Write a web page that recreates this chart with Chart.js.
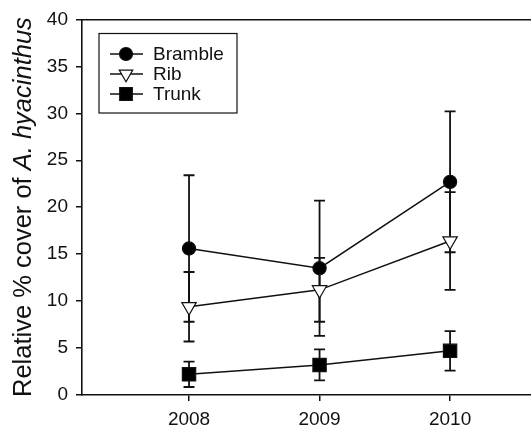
<!DOCTYPE html>
<html lang="en">
<head>
    <meta charset="UTF-8">
    <title>Relative % cover of A. hyacinthus</title>
    <script src="https://cdn.jsdelivr.net/npm/chart.js"></script>
    <style>
        html, body {
            margin: 0;
            padding: 0;
            background: #fff;
            overflow: hidden;
        }
        canvas {
            display: block;
        }
    </style>
</head>
<body>
    <canvas id="chart" width="531" height="426"></canvas>

    <script>
        // data
        const years = [2008, 2009, 2010];
        const brambleMean = [15.6, 13.5, 22.7];
        const brambleErr = [7.8, 7.2, 7.5];
        const ribMean = [9.4, 11.2, 16.4];
        const ribErr = [3.7, 3.4, 5.2];
        const trunkMean = [2.2, 3.2, 4.7];
        const trunkErr = [1.35, 1.65, 2.1];
        const yTicks = [0, 5, 10, 15, 20, 25, 30, 35, 40];

        const FONT = "'Liberation Sans', Arial, sans-serif";

        function toPoints(xs, ys) {
            return xs.map((x, i) => ({x: x, y: ys[i]}));
        }

        const series = [
            {label: "Bramble", mean: brambleMean, err: brambleErr, style: "circle", radius: 6.6, fill: "#000", rot: 0},
            {label: "Rib", mean: ribMean, err: ribErr, style: "triangle", radius: 8.3, fill: "#fff", rot: 180},
            {label: "Trunk", mean: trunkMean, err: trunkErr, style: "rect", radius: 9.4, fill: "#000", rot: 0}
        ];

        // error bars, drawn under the markers
        const errorBars = {
            id: "errorBars",
            beforeDatasetsDraw(chart) {
                const {ctx, scales: {x, y}} = chart;
                ctx.save();
                ctx.strokeStyle = "#111";
                ctx.lineWidth = 1.8;
                series.forEach(s => {
                    years.forEach((yr, i) => {
                        const px = x.getPixelForValue(yr);
                        const top = y.getPixelForValue(s.mean[i] + s.err[i]);
                        const bot = y.getPixelForValue(s.mean[i] - s.err[i]);
                        ctx.beginPath();
                        ctx.moveTo(px, top);
                        ctx.lineTo(px, bot);
                        ctx.moveTo(px - 5.5, top);
                        ctx.lineTo(px + 5.5, top);
                        ctx.moveTo(px - 5.5, bot);
                        ctx.lineTo(px + 5.5, bot);
                        ctx.stroke();
                    });
                });
                ctx.restore();
            }
        };

        // boxed legend with line + marker samples
        const boxLegend = {
            id: "boxLegend",
            afterDraw(chart) {
                const ctx = chart.ctx;
                ctx.save();
                ctx.strokeStyle = "#111";
                ctx.lineWidth = 1.2;
                ctx.strokeRect(99, 33.5, 138, 79.5);
                series.forEach((s, i) => {
                    const cy = 54 + i * 20;
                    ctx.lineWidth = 1.5;
                    ctx.beginPath();
                    ctx.moveTo(110, cy);
                    ctx.lineTo(143, cy);
                    ctx.stroke();
                    ctx.fillStyle = s.fill;
                    ctx.lineWidth = 1.2;
                    Chart.helpers.drawPoint(ctx, {
                        pointStyle: s.style,
                        radius: s.style === "circle" ? 6.5 : s.radius - 0.5,
                        rotation: s.rot,
                        borderWidth: 1.2
                    }, 126, cy);
                    ctx.fillStyle = "#111";
                    ctx.font = "19px " + FONT;
                    ctx.textBaseline = "middle";
                    ctx.textAlign = "left";
                    ctx.fillText(s.label, 153, cy + 1);
                });
                ctx.restore();
            }
        };

        // y title with italic species name
        const yTitle = {
            id: "yTitle",
            afterDraw(chart) {
                const ctx = chart.ctx;
                const a = "Relative % cover of ";
                const b = "A. hyacinthus";
                ctx.save();
                ctx.translate(31, 397);
                ctx.rotate(-Math.PI / 2);
                ctx.fillStyle = "#111";
                ctx.textBaseline = "alphabetic";
                ctx.textAlign = "left";
                ctx.font = "25.5px " + FONT;
                ctx.fillText(a, 0, 0);
                const w = ctx.measureText(a).width;
                ctx.font = "italic 25.5px " + FONT;
                ctx.fillText(b, w, 0);
                ctx.restore();
            }
        };

        new Chart(document.getElementById("chart"), {
            type: "line",
            data: {
                datasets: series.map(s => ({
                    label: s.label,
                    data: toPoints(years, s.mean),
                    borderColor: "#111",
                    borderWidth: 1.5,
                    pointStyle: s.style,
                    pointRadius: s.radius,
                    pointRotation: s.rot,
                    pointBackgroundColor: s.fill,
                    pointBorderColor: "#111",
                    pointBorderWidth: 1.2,
                    tension: 0
                }))
            },
            options: {
                responsive: false,
                animation: false,
                layout: {
                    autoPadding: false,
                    padding: {top: 18, right: 0, left: 0, bottom: 0}
                },
                plugins: {
                    legend: {display: false},
                    tooltip: {enabled: false}
                },
                scales: {
                    x: {
                        type: "linear",
                        min: 2007.18,
                        max: 2010.62,
                        afterBuildTicks: scale => {
                            scale.ticks = years.map(v => ({value: v}));
                        },
                        afterFit: scale => { scale.height = 31; },
                        grid: {
                            display: true,
                            drawOnChartArea: false,
                            drawTicks: true,
                            tickLength: 6,
                            color: "#111",
                            lineWidth: 1.5
                        },
                        border: {display: true, color: "#111", width: 1.6},
                        ticks: {
                            color: "#111",
                            font: {family: FONT, size: 19},
                            padding: 7,
                            maxRotation: 0,
                            callback: v => String(v)
                        }
                    },
                    xTop: {
                        type: "linear",
                        position: "top",
                        min: 2007.18,
                        max: 2010.62,
                        afterBuildTicks: scale => {
                            scale.ticks = years.map(v => ({value: v}));
                        },
                        afterFit: scale => { scale.height = 0; },
                        grid: {display: false},
                        border: {display: true, color: "#111", width: 1.6},
                        ticks: {display: false}
                    },
                    y: {
                        min: 0,
                        max: 40,
                        afterBuildTicks: scale => {
                            scale.ticks = yTicks.map(v => ({value: v}));
                        },
                        afterFit: scale => { scale.width = 82; },
                        grid: {
                            display: true,
                            drawOnChartArea: false,
                            drawTicks: true,
                            tickLength: 6,
                            color: "#111",
                            lineWidth: 1.5
                        },
                        border: {display: true, color: "#111", width: 1.6},
                        ticks: {
                            color: "#111",
                            font: {family: FONT, size: 19},
                            padding: 8
                        }
                    }
                }
            },
            plugins: [errorBars, boxLegend, yTitle]
        });
    </script>
</body>
</html>
